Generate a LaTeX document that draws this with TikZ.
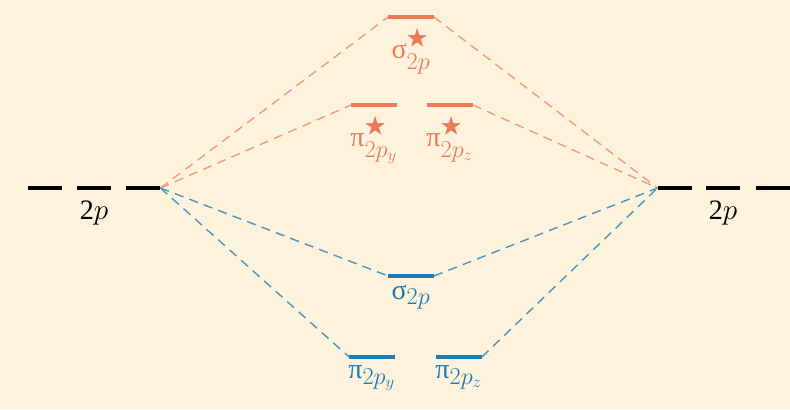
\documentclass[tikz,border=0pt]{standalone}
\usepackage{amssymb}
\usepackage{fontspec}
\setmainfont{Liberation Serif}
\DeclareMathSizes{20}{20}{16}{13}
\usepackage{tikz}
\usetikzlibrary{positioning}
\definecolor{bgcream}{HTML}{FDF3DC}
\definecolor{antibond}{HTML}{EA7A5A}
\definecolor{bond}{HTML}{1E7AB0}
\begin{document}
\begin{tikzpicture}[
    x=0.025cm, y=-0.025cm,
    every node/.style={font=\fontsize{20}{24}\selectfont},
    lvl/.style={rectangle, inner sep=0pt, minimum width=1.13cm, minimum height=0.1cm},
    atom/.style={lvl, fill=black, minimum width=0.86cm},
    anti/.style={lvl, fill=antibond},
    bnd/.style={lvl, fill=bond},
    lbl/.style={inner sep=1pt},
    link/.style={line width=1pt, dash pattern=on 6.5pt off 4.5pt}
]
\fill[bgcream] (0,0) rectangle (790,409);
\useasboundingbox (0,0) rectangle (790,409);

% --- Atomic 2p levels ---
\node[atom] (l1) at (45,188) {};
\node[atom] (l2) at (94,188) {};
\node[atom] (l3) at (143,188) {};
\node[atom] (r1) at (675,188) {};
\node[atom] (r2) at (723,188) {};
\node[atom] (r3) at (773,188) {};
\node[lbl, below=0.22cm of l2] {2$p$};
\node[lbl, below=0.22cm of r2] {2$p$};

% --- Antibonding levels ---
\node[anti] (sa) at (411,17) {};
\node[anti] (pay) at (374,105) {};
\node[anti] (paz) at (450,105) {};
\node[lbl, antibond, below=0.2cm of sa] {σ$_{2p}^{\bigstar}$};
\node[lbl, antibond, below=0.2cm of pay] {π$_{2p_y}^{\bigstar}$};
\node[lbl, antibond, below=0.2cm of paz] {π$_{2p_z}^{\bigstar}$};

% --- Bonding levels ---
\node[bnd] (sb) at (411,276) {};
\node[bnd] (pby) at (372,357) {};
\node[bnd] (pbz) at (459,357) {};
\node[lbl, bond, below=0.12cm of sb] {σ$_{2p}$};
\node[lbl, bond, below=0.12cm of pby] {π$_{2p_y}$};
\node[lbl, bond, below=0.12cm of pbz] {π$_{2p_z}$};

% --- Correlation lines ---
\draw[link, antibond!75] (l3.east) -- (sa.west);
\draw[link, antibond!75] (l3.east) -- (pay.west);
\draw[link, antibond!75] (sa.east) -- (r1.west);
\draw[link, antibond!75] (paz.east) -- (r1.west);
\draw[link, bond!80] (l3.east) -- (sb.west);
\draw[link, bond!80] (l3.east) -- (pby.west);
\draw[link, bond!80] (sb.east) -- (r1.west);
\draw[link, bond!80] (pbz.east) -- (r1.west);
\end{tikzpicture}
\end{document}
